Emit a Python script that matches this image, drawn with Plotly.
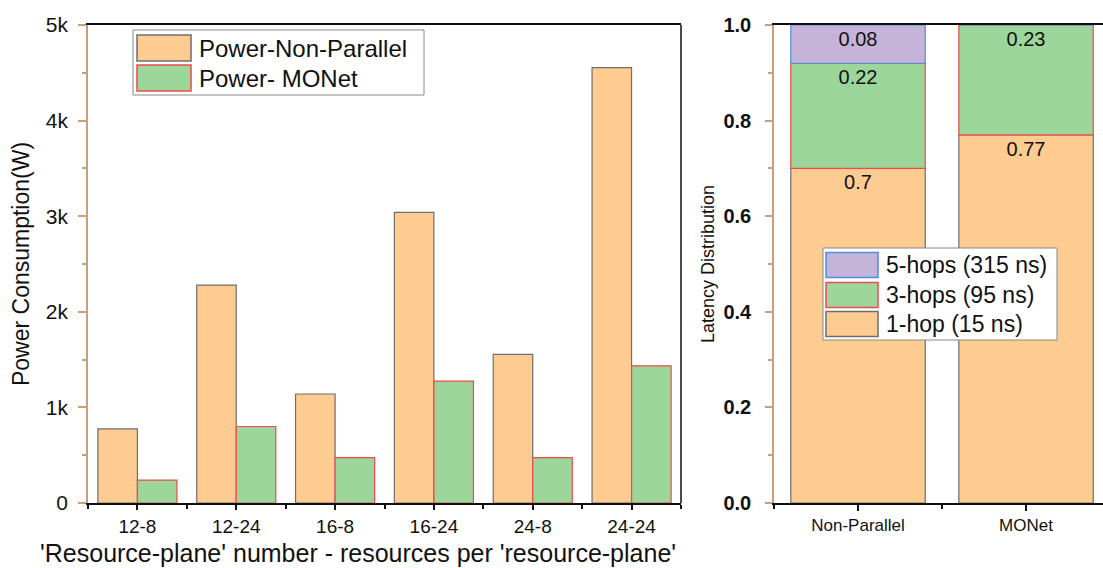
import plotly.graph_objects as go

categories = ["12-8", "12-24", "16-8", "16-24", "24-8", "24-24"]
power_non_parallel = [775, 2280, 1140, 3040, 1555, 4555]
power_monet = [240, 800, 475, 1275, 475, 1435]
power_ticks = [0, 1000, 2000, 3000, 4000, 5000]
power_tick_labels = ["0", "1k", "2k", "3k", "4k", "5k"]
x_title_left = "'Resource-plane' number - resources per 'resource-plane'"

latency_cats = ["Non-Parallel", "MONet"]
hop1 = [0.70, 0.77]
hop3 = [0.22, 0.23]
hop5 = [0.08, 0.0]
latency_ticks = [0.0, 0.2, 0.4, 0.6, 0.8, 1.0]

ORANGE = "#fecb90"
GREEN = "#9cd69a"
PURPLE = "#c6b3d8"
TAN = "#c9a07c"
GRAYLINE = "#6e6e6e"
REDLINE = "#f04a4a"
BLUELINE = "#4a8ee0"
FONT = "Arial, Liberation Sans, sans-serif"

W, H = 1103, 568

xl = list(range(len(categories)))
xr = list(range(len(latency_cats)))

fig = go.Figure()
left_series = [
    (power_non_parallel, "Power-Non-Parallel", ORANGE, GRAYLINE),
    (power_monet, "Power- MONet", GREEN, REDLINE),
]
for vals, name, col, lc in left_series:
    fig.add_trace(go.Bar(x=xl, y=vals, name=name,
                         marker=dict(color=col, line=dict(color=lc, width=1.2)),
                         xaxis="x", yaxis="y"))

def fmt(v):
    return "" if v == 0 else ("%g" % v)

base3 = hop1
base5 = [a + b for a, b in zip(hop1, hop3)]
right_series = [
    (hop1, None, "1-hop (15 ns)", ORANGE, GRAYLINE),
    (hop3, base3, "3-hops (95 ns)", GREEN, REDLINE),
    (hop5, base5, "5-hops (315 ns)", PURPLE, BLUELINE),
]
for vals, base, name, col, lc in right_series:
    fig.add_trace(go.Bar(x=xr, y=vals, base=base, name=name, width=0.8, offset=-0.4,
                         marker=dict(color=col, line=dict(color=lc, width=1.2)),
                         text=[fmt(v) for v in vals], textposition="inside",
                         insidetextanchor="end", textangle=0,
                         textfont=dict(size=20, color="#111", family=FONT),
                         xaxis="x2", yaxis="y2"))

fig.update_layout(
    width=W, height=H,
    margin=dict(l=0, r=0, t=0, b=0),
    paper_bgcolor="white", plot_bgcolor="white",
    font=dict(family=FONT, color="#111"),
    barmode="group", bargap=0.2, bargroupgap=0,
    showlegend=False,
    xaxis=dict(domain=[88 / W, 681 / W], range=[-0.5, 5.5],
               tickvals=xl, ticktext=categories, ticks="outside", ticklen=5,
               tickcolor="#111", tickwidth=1.5,
               minor=dict(tick0=0.5, dtick=1, ticks="outside", ticklen=4, tickcolor="#111", tickwidth=1.5),
               showline=True, linecolor="#111", linewidth=1.5, mirror=True,
               showgrid=False, zeroline=False,
               tickfont=dict(size=19),
               anchor="y", automargin=False),
    yaxis=dict(domain=[(H - 503) / H, (H - 25) / H], range=[0, 5000],
               tickvals=power_ticks, ticktext=power_tick_labels, ticks="outside", ticklen=8,
               tickcolor=TAN, tickwidth=1.5, ticklabelstandoff=6,
               minor=dict(dtick=500, ticks="outside", ticklen=4, tickcolor=TAN, tickwidth=1.5),
               showline=True, linecolor=TAN, linewidth=1.5,
               showgrid=False, zeroline=False,
               tickfont=dict(size=21),
               title=dict(text="Power Consumption(W)", font=dict(size=23), standoff=10),
               anchor="x", automargin=False),
    xaxis2=dict(domain=[774 / W, 1.0], range=[-0.5, 1.458],
                tickvals=xr, ticktext=latency_cats, ticks="outside", ticklen=6,
                tickcolor="#111", tickwidth=1.5,
                minor=dict(tick0=0.5, dtick=1, ticks="outside", ticklen=4, tickcolor="#111", tickwidth=1.5),
                showline=True, linecolor="#111", linewidth=1.5, mirror=True,
                showgrid=False, zeroline=False,
                tickfont=dict(size=17),
                anchor="y2", automargin=False),
    yaxis2=dict(domain=[(H - 503) / H, (H - 25) / H], range=[0, 1.0],
                tickvals=latency_ticks, ticktext=["%.1f" % v for v in latency_ticks],
                ticks="outside", ticklen=7, tickcolor=TAN, tickwidth=1.5, ticklabelstandoff=10,
                minor=dict(dtick=0.1, ticks="outside", ticklen=4, tickcolor=TAN, tickwidth=1.5),
                showline=True, linecolor=TAN, linewidth=1.5,
                showgrid=False, zeroline=False,
                tickfont=dict(size=20, weight="bold"),
                title=dict(text="Latency Distribution", font=dict(size=18), standoff=4),
                anchor="x2", automargin=False),
)

def px(x):
    return x / W

def py(y):
    return 1 - y / H

# x-axis title of the left panel
fig.add_annotation(xref="paper", yref="paper", x=px(358), y=py(553),
                   xanchor="center", yanchor="middle", showarrow=False, borderpad=0,
                   text=x_title_left, font=dict(size=25, color="#111", family=FONT))

# right border of the left panel
fig.add_shape(type="line", xref="x domain", yref="y domain", x0=1, x1=1, y0=0, y1=1,
              line=dict(color="#111", width=1.5))

def draw_legend(box, items, sw_x, sw_w, sw_h, row_y, text_x, size):
    x0, y0, x1, y1 = box
    fig.add_shape(type="rect", xref="paper", yref="paper",
                  x0=px(x0), x1=px(x1), y0=py(y1), y1=py(y0),
                  line=dict(color="#888", width=1), fillcolor="white", layer="above")
    for (name, col, lc), cy in zip(items, row_y):
        fig.add_shape(type="rect", xref="paper", yref="paper",
                      x0=px(sw_x), x1=px(sw_x + sw_w), y0=py(cy + sw_h / 2), y1=py(cy - sw_h / 2),
                      line=dict(color=lc, width=1.5), fillcolor=col, layer="above")
        fig.add_annotation(xref="paper", yref="paper", x=px(text_x), y=py(cy),
                           xanchor="left", yanchor="middle", showarrow=False,
                           text=name, font=dict(size=size, color="#111", family=FONT))

draw_legend((133, 30, 424, 95),
            [(n, c, l) for _, n, c, l in left_series],
            137, 54, 26, [48, 78], 197, 24)
draw_legend((823, 248, 1057, 340),
            [(n, c, l) for _, _, n, c, l in reversed(right_series)],
            826, 52, 25, [265, 295, 324], 884, 23)

fig.write_html("out.html", config={"displayModeBar": False},
               post_script="document.body.style.margin='0';document.body.style.overflow='hidden';")
